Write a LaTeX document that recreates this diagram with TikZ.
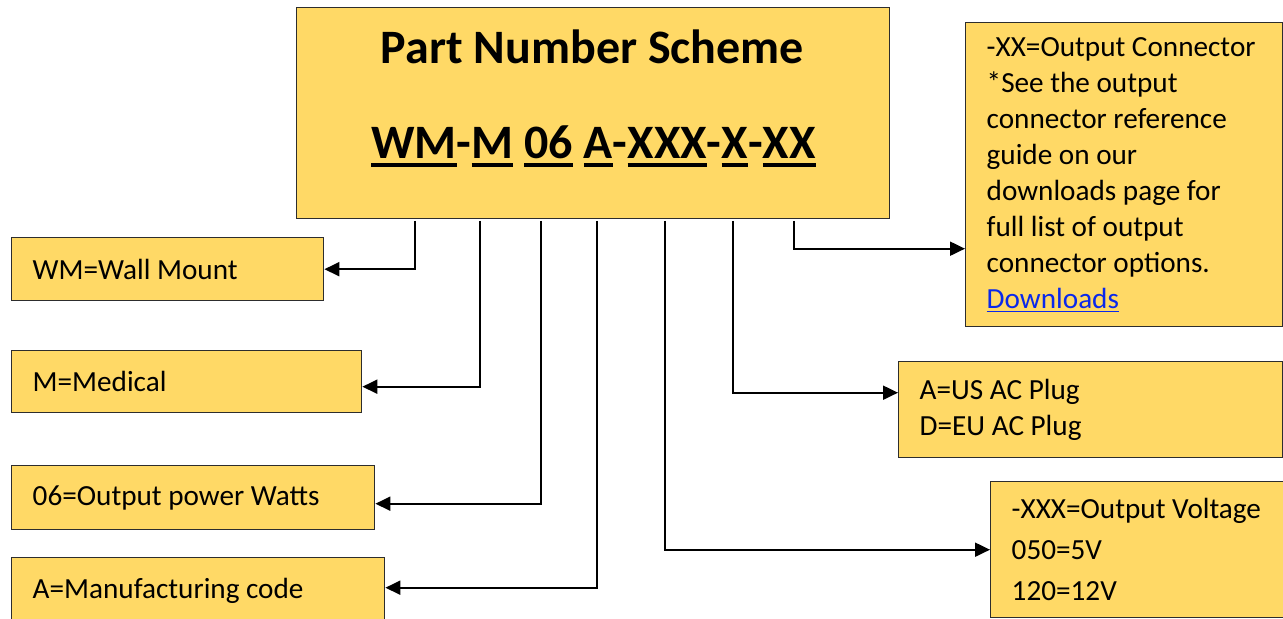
\documentclass[tikz,border=0pt]{standalone}
\usepackage{fontspec}
\setmainfont{Carlito}
\usetikzlibrary{arrows.meta}

\definecolor{gold}{RGB}{255,217,102}
\definecolor{edge}{RGB}{45,45,45}
\definecolor{linkblue}{RGB}{10,40,235}

\newcommand{\ulpart}[1]{\setbox0\hbox{#1}\rlap{\rule[-4pt]{\wd0}{2pt}}\box0{}}
\newcommand{\boxfont}{\fontsize{14.6}{18}\selectfont}

\begin{document}
\begin{tikzpicture}[x=0.5pt,y=-0.5pt,
  box/.style={draw=edge,line width=0.7pt,fill=gold,anchor=north west,inner xsep=10.5pt,inner ysep=0pt,align=flush left,font=\boxfont},
  conn/.style={line width=1pt,-{Triangle[length=7.5pt,width=7pt]}},
  head/.style={anchor=base,font=\fontsize{24}{29}\selectfont\bfseries}]
\useasboundingbox (0,0) rectangle (1283,619);

\node[box,minimum width=296.5pt,minimum height=105.5pt] (title) at (296,7) {};
\node[head] (name) at (592.5,64) {Part Number Scheme};
\node[head] (code) at (593.5,159) {\ulpart{WM}-\ulpart{M} \ulpart{06} \ulpart{A}-\ulpart{XXX}-\ulpart{X}-\ulpart{XX}};

\node[box,minimum width=156pt,minimum height=31.5pt,text width=135pt] (wm) at (11,237) {WM=Wall Mount};
\node[box,minimum width=175pt,minimum height=31pt,text width=154pt] (med) at (11,350) {M=Medical};
\node[box,minimum width=181.5pt,minimum height=32pt,text width=160.5pt] (watt) at (11,465) {06=Output power Watts};
\node[box,minimum width=186.5pt,minimum height=33pt,text width=165.5pt] (mfg) at (11,557) {A=Manufacturing code};

\node[box,minimum width=158.5pt,minimum height=152pt,text width=137.5pt] (out) at (965,22) {-XX=Output Connector\\{}*See the output\\connector reference\\guide on our\\downloads page for\\full list of output\\connector options.\\\textcolor{linkblue}{\underline{Downloads}}};
\node[box,minimum width=192pt,minimum height=48pt,text width=171pt] (plug) at (898,361) {A=US AC Plug\\D=EU AC Plug};
\node[box,minimum width=146.5pt,minimum height=68pt,text width=125.5pt,font=\fontsize{14.6}{20.5}\selectfont] (volt) at (990,481) {-XXX=Output~Voltage\\050=5V\\120=12V};

% drop points under the part number
\coordinate (t1) at (415,221);
\coordinate (t2) at (480,221);
\coordinate (t3) at (541,221);
\coordinate (t4) at (597,221);
\coordinate (t5) at (665,221);
\coordinate (t6) at (733,221);
\coordinate (t7) at (794,221);

\draw[conn] (t1) |- (wm.east);
\draw[conn] (t2) |- ([yshift=-2.5pt]med.east);
\draw[conn] (t3) |- ([yshift=-3pt]watt.east);
\draw[conn] (t4) |- ([yshift=1.5pt]mfg.east);
\draw[conn] (t5) |- (volt.west);
\draw[conn] (t6) |- ([yshift=8.5pt]plug.west);
\draw[conn] (t7) |- ([yshift=-37pt]out.west);
\end{tikzpicture}
\end{document}
